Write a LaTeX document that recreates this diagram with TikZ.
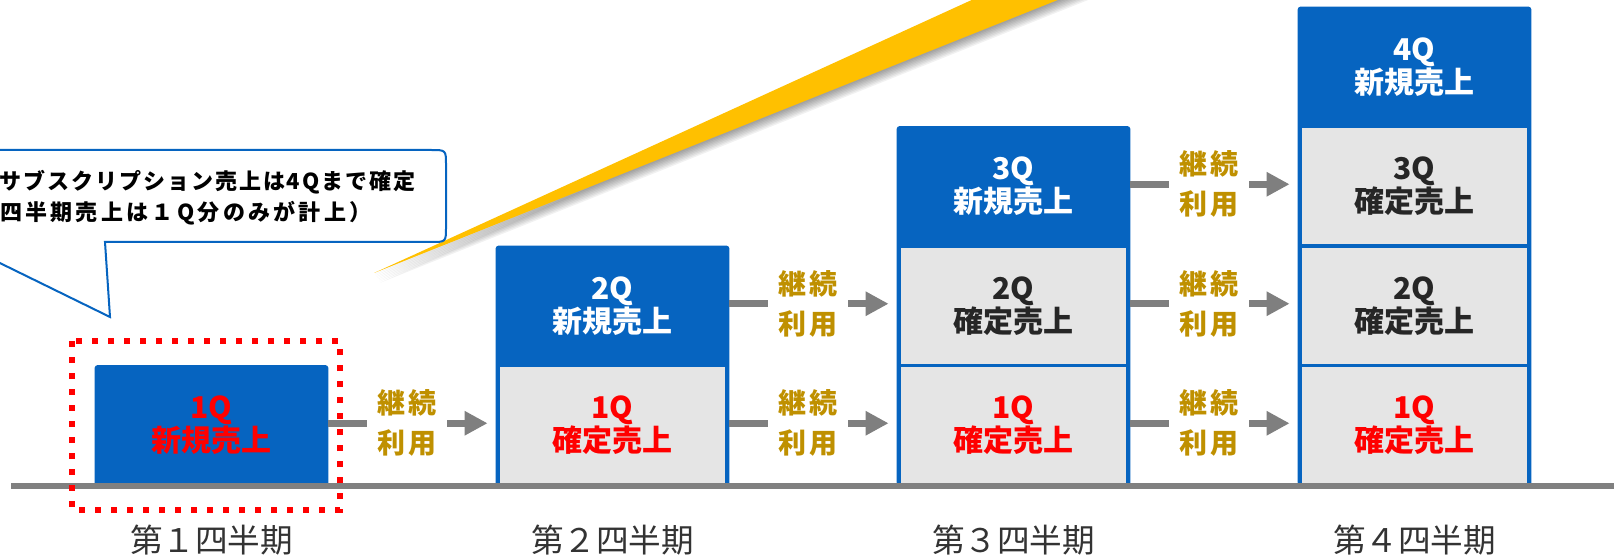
\documentclass[tikz,border=0pt]{standalone}
\usepackage{fontspec}
\setmainfont{Noto Sans CJK JP}
\usetikzlibrary{arrows.meta,calc,backgrounds}
\definecolor{qblue}{RGB}{6,100,192}
\definecolor{cellgray}{RGB}{229,229,229}
\definecolor{arrowgray}{RGB}{127,127,127}
\definecolor{basegray}{RGB}{128,128,128}
\definecolor{gold}{RGB}{191,144,0}
\definecolor{darktxt}{RGB}{38,38,38}
\definecolor{labeltxt}{RGB}{51,51,51}
\definecolor{wedge}{RGB}{255,192,0}
\definecolor{qred}{RGB}{255,0,0}
\tikzset{
 cell/.style={minimum width=116.5pt, minimum height=59.75pt, inner sep=0pt, align=center, font=\bfseries\fontsize{15}{16.5}\selectfont},
 newc/.style={cell,text=white},
 fixc/.style={cell,text=darktxt},
 redc/.style={cell,text=qred},
 cont/.style={inner sep=0pt, minimum width=40pt, align=center, text=gold, font=\bfseries\fontsize{14}{20}\selectfont\addfontfeature{LetterSpace=8}},
 bar/.style={draw=arrowgray, line width=3.5pt},
 barhead/.style={bar, -{Triangle[length=11.5pt,width=11.5pt]}, shorten >=4pt},
 qlabel/.style={text=labeltxt, font=\fontsize{16.3}{18}\selectfont, inner sep=0pt},
 callt/.style={text=black, inner sep=0pt, font=\bfseries\fontsize{11}{15.5}\selectfont\addfontfeature{LetterSpace=9}},
 callu/.style={callt, font=\bfseries\fontsize{11}{15.5}\selectfont\addfontfeature{LetterSpace=15}},
 wshadow/.style={fill=black, opacity=0.055},
}
\begin{document}
\begin{tikzpicture}[x=0.5pt,y=-0.5pt]
\useasboundingbox (0,0) rectangle (1614,556);
\begin{scope}
\clip (0,0) rectangle (1614,556);

% yellow wedge with soft shadow
\foreach \s in {1,...,8}
  \fill[wshadow] ([shift={(0.8*\s,1.2*\s)}]374,273) -- ([shift={(0.8*\s,1.2*\s)}]1103,-60) -- ([shift={(0.8*\s,1.2*\s)}]1208,-60) -- cycle;
\fill[wedge] (374,273) -- (1103,-60) -- (1208,-60) -- cycle;

% callout
\draw[qblue, line width=1pt, fill=white] (-80,150) -- (431,150) .. controls (446,150) .. (446,165) -- (446,227) .. controls (446,242) .. (431,242) -- (105,242) -- (110,317) -- (-43,242) -- (-80,242) -- cycle;
\node[callt, anchor=east] (n1) at (416,182) {サブスクリプション売上は4Qまで確定};
\node[callu, anchor=east] (n2) at (372,213) {四半期売上は１Q分のみが計上）};

% cells
\node[redc] (c00) at (211.5,425.25) {1Q\\新規売上};

\node[redc] (c10) at (612.5,425.25) {1Q\\確定売上};
\node[newc] (c11) at (612.5,305.75) {2Q\\新規売上};

\node[redc] (c20) at (1013.5,425.25) {1Q\\確定売上};
\node[fixc] (c21) at (1013.5,305.75) {2Q\\確定売上};
\node[newc] (c22) at (1013.5,186.25) {3Q\\新規売上};

\node[redc] (c30) at (1414.5,425.25) {1Q\\確定売上};
\node[fixc] (c31) at (1414.5,305.75) {2Q\\確定売上};
\node[fixc] (c32) at (1414.5,186.25) {3Q\\確定売上};
\node[newc] (c33) at (1414.5,66.75) {4Q\\新規売上};

\begin{scope}[on background layer]
\fill[qblue, rounded corners=1.5pt] (c00.north west) rectangle (c00.south east);
\fill[qblue, rounded corners=1.5pt] (c11.north west) rectangle (c10.south east);
\fill[qblue, rounded corners=1.5pt] (c22.north west) rectangle (c20.south east);
\fill[qblue, rounded corners=1.5pt] (c33.north west) rectangle (c30.south east);
\foreach \c in {c10,c20,c30}
  \fill[cellgray] ([xshift=2pt,yshift=-1pt]\c.north west) rectangle ([xshift=-2pt]\c.south east);
\foreach \c in {c21,c31,c32}
  \fill[cellgray] ([xshift=2pt,yshift=-1pt]\c.north west) rectangle ([xshift=-2pt,yshift=1pt]\c.south east);
\end{scope}

% continuation arrows
\node[cont] (t00) at (407,423.25) {継続\\利用};
\node[cont] (t10) at (808,423.25) {継続\\利用};
\node[cont] (t11) at (808,303.75) {継続\\利用};
\node[cont] (t20) at (1209,423.25) {継続\\利用};
\node[cont] (t21) at (1209,303.75) {継続\\利用};
\node[cont] (t22) at (1209,184.25) {継続\\利用};

\draw[bar] (c00.east |- t00) -- (t00.west);
\draw[barhead] (t00.east) -- (c10.west |- t00);
\draw[bar] (c10.east |- t10) -- (t10.west);
\draw[barhead] (t10.east) -- (c20.west |- t10);
\draw[bar] (c11.east |- t11) -- (t11.west);
\draw[barhead] (t11.east) -- (c21.west |- t11);
\draw[bar] (c20.east |- t20) -- (t20.west);
\draw[barhead] (t20.east) -- (c30.west |- t20);
\draw[bar] (c21.east |- t21) -- (t21.west);
\draw[barhead] (t21.east) -- (c31.west |- t21);
\draw[bar] (c22.east |- t22) -- (t22.west);
\draw[barhead] (t22.east) -- (c32.west |- t22);

% baseline
\coordinate (b0) at (11,486);
\coordinate (b1) at (1614,486);
\draw[basegray, line width=3pt] (b0) -- (b1);

% quarter labels
\node[qlabel] (q1) at (211.5,540) {第１四半期};
\node[qlabel] (q2) at (612.5,540) {第２四半期};
\node[qlabel] (q3) at (1013.5,540) {第３四半期};
\node[qlabel] (q4) at (1414.5,540) {第４四半期};

% red dotted frame
\draw[qred, line width=3pt, dash pattern=on 3pt off 5pt] (72,341) rectangle (340,510);
\end{scope}
\end{tikzpicture}
\end{document}
